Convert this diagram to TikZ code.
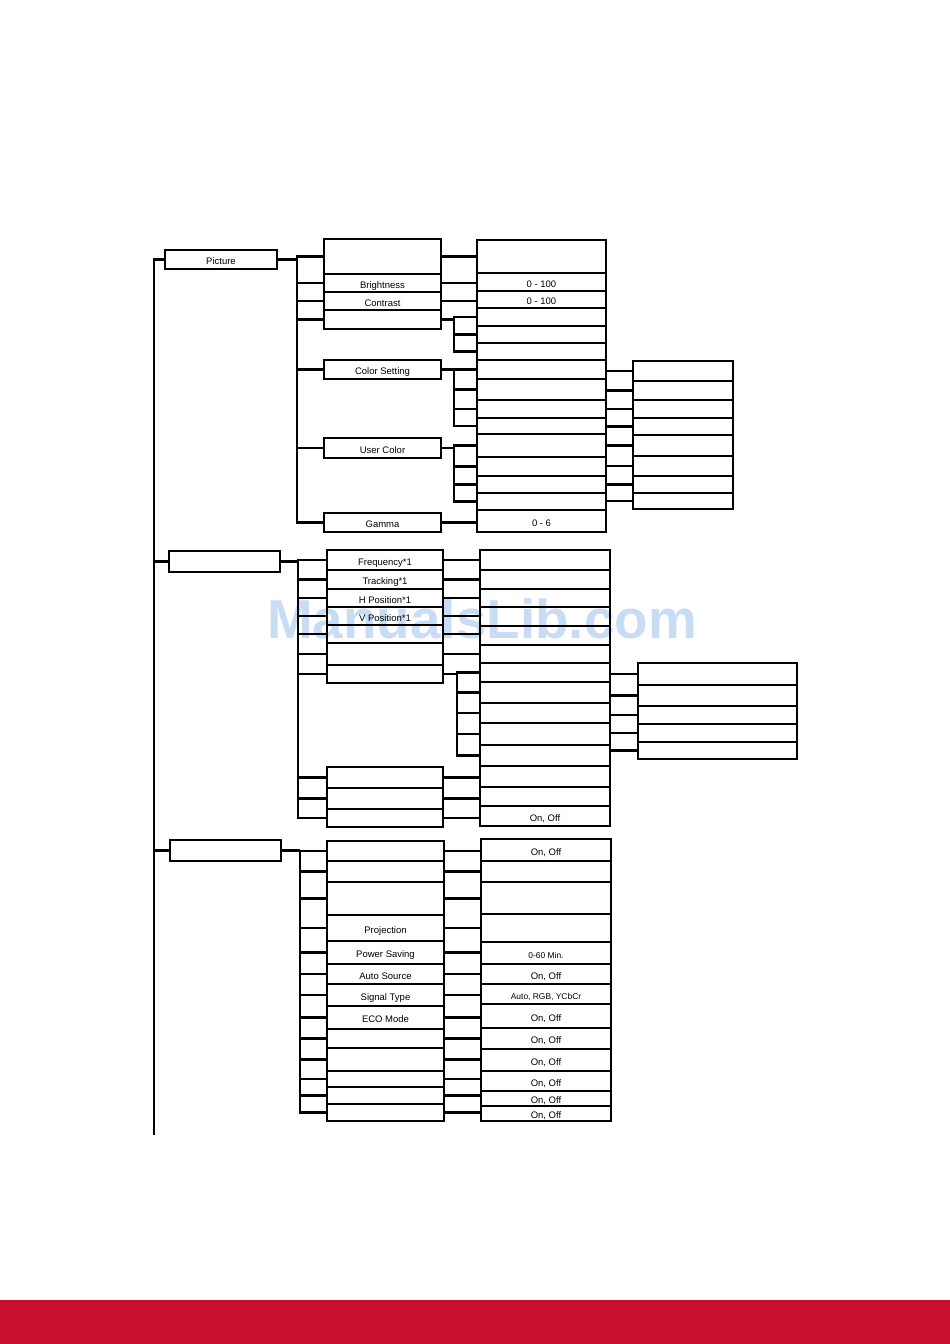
\documentclass[tikz,border=0pt]{standalone}
\usepackage{fontspec}
\setmainfont{Liberation Sans}
\usetikzlibrary{calc}
\definecolor{vsred}{HTML}{C8102E}
\definecolor{wmblue}{HTML}{C8DCF6}
\newcommand\smtxt{\fontsize{6}{7}\selectfont}

\begin{document}
\begin{tikzpicture}[x=0.25mm,y=-0.25mm,
cell/.style={draw,rectangle,inner sep=0pt,outer sep=0pt,line width=1.7pt,
text height=1.45ex,text depth=0pt,font=\fontsize{6.75}{8}\selectfont},
wire/.style={line width=1.7pt}
]
\useasboundingbox (0,0) rectangle (950,1344);
\fill[vsred] (0,1300) rectangle (950,1344);
\node[text=wmblue,font=\bfseries\fontsize{39}{39}\selectfont] (wm) at (482,619) {ManualsLib.com};

% Picture
\node[cell,minimum width=112*0.25mm,minimum height=19*0.25mm] (pic) at (221,259.5) {Picture};
\foreach \n/\a/\b/\t in {pa/239/274/{},pb/274/292/Brightness,pc/292/310/Contrast,
pd/310/329/{},pe/360/379/Color Setting,pf/438/458/User Color,pg/513/532/Gamma}
\node[cell,minimum width=117*0.25mm,minimum height=(\b-\a)*0.25mm] (\n) at (382.5,{(\a+\b)/2}) {\t};
\foreach \n/\a/\b/\t in {qa/240/273/{},qb/273/291/0 - 100,qc/291/308/0 - 100,
qd/308/326/{},qe/326/343/{},qf/343/360/{},qg/360/379/{},qh/379/400/{},
qi/400/418/{},qj/418/434/{},qk/434/457/{},ql/457/476/{},qm/476/493/{},
qn/493/510/{},qo/510/532/0 - 6}
\node[cell,minimum width=129*0.25mm,minimum height=(\b-\a)*0.25mm] (\n) at (541.5,{(\a+\b)/2}) {\t};
\foreach \n/\a/\b in {ra/361/381,rb/381/400,rc/400/418,rd/418/435,
re/435/456,rf/456/476,rg/476/493,rh/493/509}
\node[cell,minimum width=100*0.25mm,minimum height=(\b-\a)*0.25mm] (\n) at (683,{(\a+\b)/2}) {};

% second group
\node[cell,minimum width=111*0.25mm,minimum height=21*0.25mm] (s2) at (224.5,561.5) {};
\foreach \n/\a/\b/\t in {sa/550/570/Frequency*1,sb/570/589/Tracking*1,
sc/589/607/H Position*1,sd/607/625/V Position*1,se/625/643/{},sf/643/665/{},
sg/665/683/{},sh/767/788/{},si/788/809/{},sj/809/827/{}}
\node[cell,minimum width=116*0.25mm,minimum height=(\b-\a)*0.25mm] (\n) at (385,{(\a+\b)/2}) {\t};
\foreach \n/\a/\b/\t in {ta/550/570/{},tb/570/589/{},tc/589/607/{},
td/607/626/{},te/626/645/{},tf/645/663/{},tg/663/682/{},th/682/703/{},
ti/703/723/{},tj/723/745/{},tk/745/766/{},tl/766/787/{},tm/787/806/{},
tn/806/826/{On, Off}}
\node[cell,minimum width=130*0.25mm,minimum height=(\b-\a)*0.25mm] (\n) at (545,{(\a+\b)/2}) {\t};
\foreach \n/\a/\b in {ua/663/685,ub/685/706,uc/706/724,ud/724/742,ue/742/759}
\node[cell,minimum width=159*0.25mm,minimum height=(\b-\a)*0.25mm] (\n) at (717.5,{(\a+\b)/2}) {};

% third group
\node[cell,minimum width=111*0.25mm,minimum height=21*0.25mm] (s3) at (225.5,850.5) {};
\foreach \n/\a/\b/\t in {va/841/861/{},vb/861/882/{},vc/882/915/{},
vd/915/941/Projection,ve/941/964/Power Saving,vf/964/984/Auto Source,
vg/984/1006/Signal Type,vh/1006/1029/ECO Mode,vi/1029/1048/{},
vj/1048/1071/{},vk/1071/1087/{},vl/1087/1104/{},vm/1104/1121/{}}
\node[cell,minimum width=117*0.25mm,minimum height=(\b-\a)*0.25mm] (\n) at (385.5,{(\a+\b)/2}) {\t};
\foreach \n/\a/\b/\t in {wa/839/861/{On, Off},wb/861/882/{},wc/882/914/{},
wd/914/942/{},we/942/964/{\smtxt 0-60 Min.},wf/964/984/{On, Off},
wg/984/1004/{\smtxt Auto, RGB, YCbCr},wh/1004/1028/{On, Off},
wi/1028/1049/{On, Off},wj/1049/1071/{On, Off},wk/1071/1091/{On, Off},
wl/1091/1106/{On, Off},wm/1106/1121/{On, Off}}
\node[cell,minimum width=130*0.25mm,minimum height=(\b-\a)*0.25mm] (\n) at (546,{(\a+\b)/2}) {\t};

% connectors
\coordinate (jm) at (154,1135);
\coordinate (jp) at (297,0);
\coordinate (jq) at (454,0);
\coordinate (js) at (298,0);
\coordinate (jt) at (457,0);
\coordinate (jv) at (300,0);
\draw[wire] (pic.west) -| (jm);
\foreach \s in {s2,s3}
\draw[wire] (\s.west) -- (\s.west -| jm);

\draw[wire] (pic.east) -- (pic.east -| jp);
\foreach \c in {pa,pb,pc,pd,pe,pf,pg}
\draw[wire] (pic.east -| jp) |- (\c.west);
\foreach \a/\b in {pa/qa,pb/qb,pc/qc,pg/qo}
\draw[wire] (\a.east) -- (\a.east -| \b.west);
\foreach \p/\c in {pd/qd,pd/qe,pd/qf,pe/qg,pe/qh,pe/qi,pe/qj,
pf/qk,pf/ql,pf/qm,pf/qn}
\draw[wire] (\p.east) -- (\p.east -| jq) |- (\c.west);
\foreach \a/\b in {qg/ra,qh/rb,qi/rc,qj/rd,qk/re,ql/rf,qm/rg,qn/rh}
\draw[wire] (\b.west) -- (\b.west -| \a.east);

\draw[wire] (s2.east) -- (s2.east -| js);
\foreach \c in {sa,sb,sc,sd,se,sf,sg,sh,si,sj}
\draw[wire] (s2.east -| js) |- (\c.west);
\foreach \a/\b in {sa/ta,sb/tb,sc/tc,sd/td,se/te,sf/tf,sh/tl,si/tm,sj/tn}
\draw[wire] (\a.east) -- (\a.east -| \b.west);
\foreach \c in {tg,th,ti,tj,tk}
\draw[wire] (sg.east) -- (sg.east -| jt) |- (\c.west);
\foreach \a/\b in {tg/ua,th/ub,ti/uc,tj/ud,tk/ue}
\draw[wire] (\b.west) -- (\b.west -| \a.east);

\draw[wire] (s3.east) -- (s3.east -| jv);
\foreach \c in {va,vb,vc,vd,ve,vf,vg,vh,vi,vj,vk,vl,vm}
\draw[wire] (s3.east -| jv) |- (\c.west);
\foreach \a/\b in {va/wa,vb/wb,vc/wc,vd/wd,ve/we,vf/wf,vg/wg,vh/wh,
vi/wi,vj/wj,vk/wk,vl/wl,vm/wm}
\draw[wire] (\a.east) -- (\a.east -| \b.west);
\end{tikzpicture}
\end{document}
